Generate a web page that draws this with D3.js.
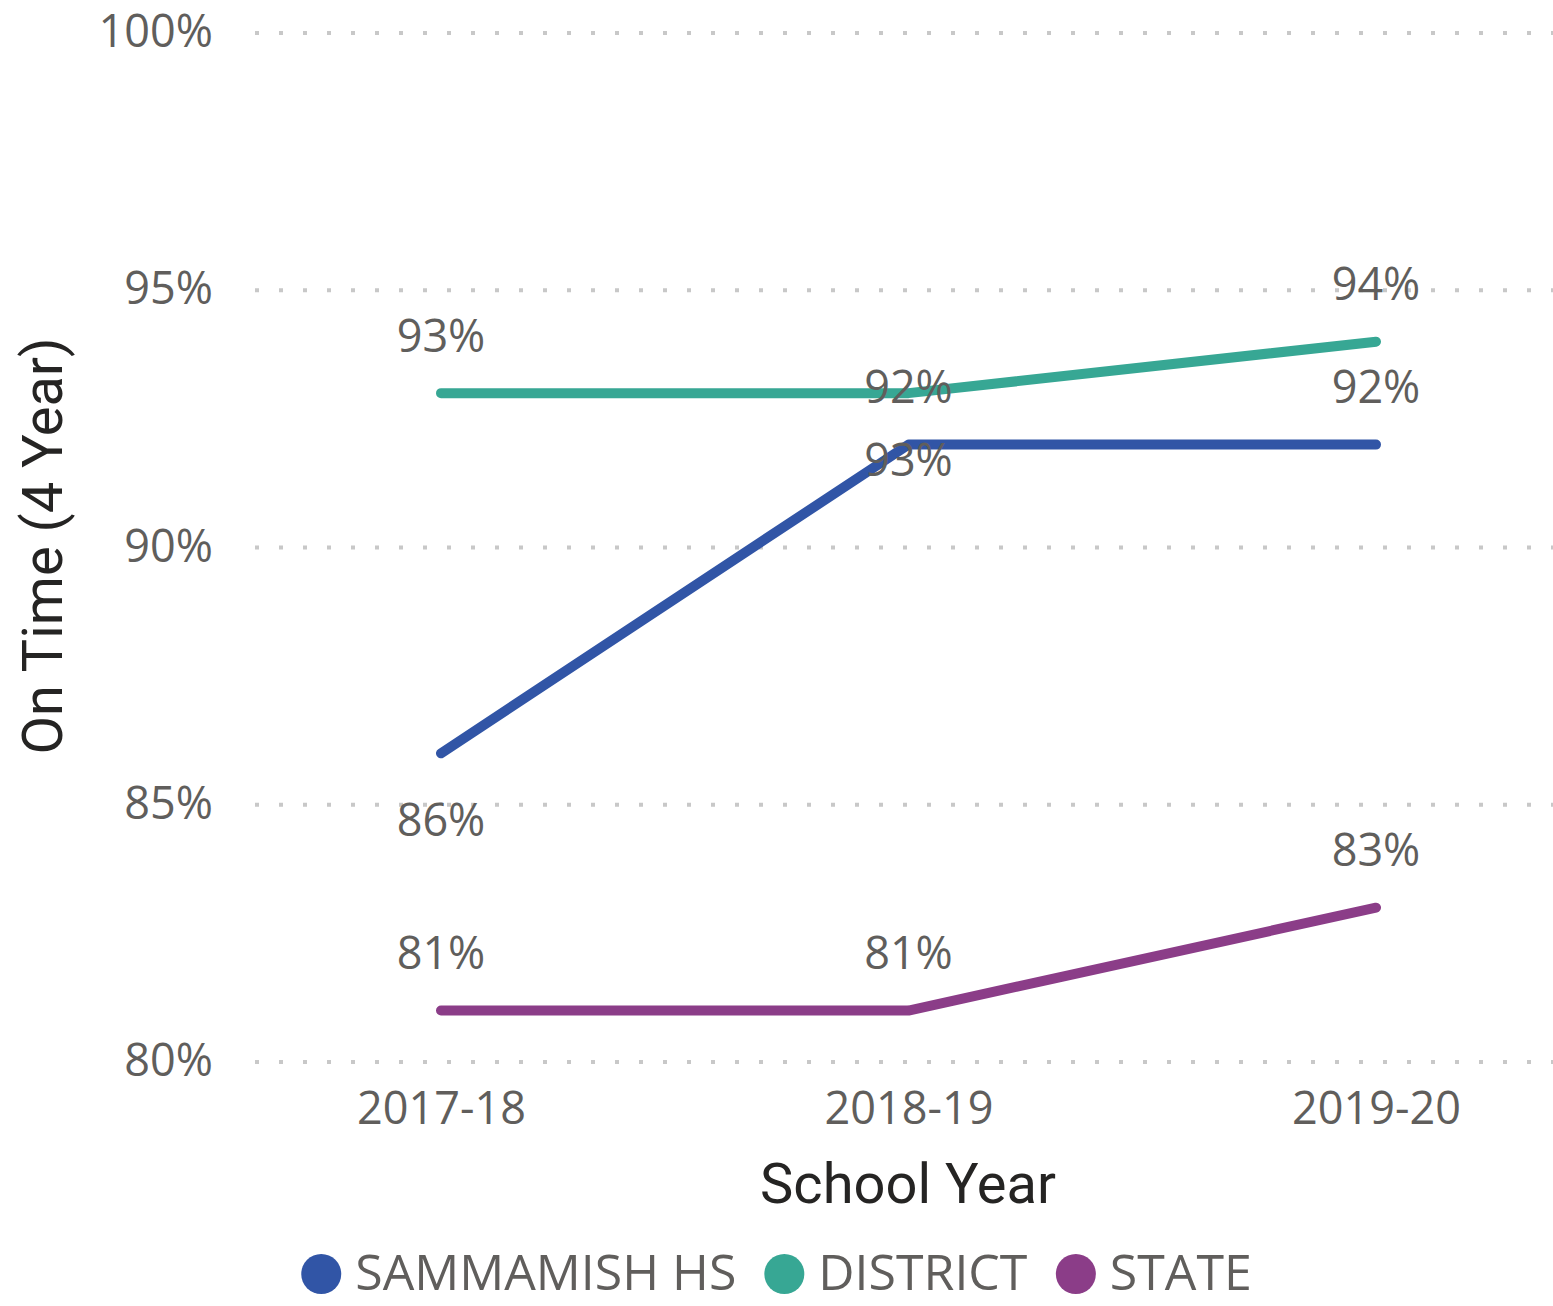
<!DOCTYPE html>
<html>
<head>
<meta charset="utf-8">
<script src="https://cdnjs.cloudflare.com/ajax/libs/d3/7.8.5/d3.min.js"></script>
<style>
  html, body { margin: 0; padding: 0; background: #fff; }
</style>
</head>
<body>
<div id="chart"></div>
<script>
// school years on the x axis
var years = ["2017-18", "2018-19", "2019-20"];

// series names, colours and values (percent)
var seriesNames = ["SAMMAMISH HS", "DISTRICT", "STATE"];
var seriesColors = ["#3155A6", "#37A794", "#8B3D88"];
var sammamish = [86, 92, 92];
var district = [93, 93, 94];
var state = [81, 81, 83];

// where each data label sits relative to its point
var sammamishLabelPos = ["below", "above", "above"];
var districtLabelPos = ["above", "below", "above"];
var stateLabelPos = ["above", "above", "above"];

var yTicks = [80, 85, 90, 95, 100];

var W = 1553, H = 1306,
    tickFont = "'Open Sans', 'Noto Sans', sans-serif",
    titleFont = "Roboto, 'DejaVu Sans Condensed', sans-serif",
    gray = "#605E5C";

var series = [
    { name: seriesNames[0], color: seriesColors[0], values: sammamish, pos: sammamishLabelPos },
    { name: seriesNames[1], color: seriesColors[1], values: district, pos: districtLabelPos },
    { name: seriesNames[2], color: seriesColors[2], values: state, pos: stateLabelPos }
];

var svg = d3.select("#chart").append("svg")
    .attr("width", W)
    .attr("height", H);

var gridLeft = 255, gridRight = W;

var x = d3.scalePoint()
    .domain(years)
    .range([441, 1376]);

var y = d3.scaleLinear()
    .domain([80, 100])
    .range([1062, 33]);

// dotted gridlines
svg.append("g").selectAll("line")
    .data(yTicks)
    .enter()
    .append("line")
    .attr("x1", gridLeft)
    .attr("x2", gridRight)
    .attr("y1", function (d) { return y(d); })
    .attr("y2", function (d) { return y(d); })
    .attr("stroke", "#C8C8C8")
    .attr("stroke-width", 4)
    .attr("stroke-dasharray", "4,20");

// y axis labels
var yAxis = svg.append("g")
    .attr("transform", "translate(213,0)")
    .call(d3.axisLeft(y).tickValues(yTicks).tickSize(0).tickPadding(0)
        .tickFormat(function (d) { return d + "%"; }));
yAxis.select(".domain").remove();
yAxis.selectAll("text")
    .attr("font-family", tickFont)
    .attr("font-size", "45px")
    .attr("fill", gray)
    .attr("dy", "0.3em");

// x axis labels
var xAxis = svg.append("g")
    .attr("transform", "translate(0,1090)")
    .call(d3.axisBottom(x).tickSize(0).tickPadding(0));
xAxis.select(".domain").remove();
xAxis.selectAll("text")
    .attr("font-family", tickFont)
    .attr("font-size", "45px")
    .attr("fill", gray)
    .attr("dy", "0.75em");

// axis titles
svg.append("text")
    .attr("x", 908)
    .attr("y", 1203)
    .attr("text-anchor", "middle")
    .attr("font-family", titleFont)
    .attr("font-size", "56px")
    .attr("fill", "#252423")
    .text("School Year");

svg.append("text")
    .attr("transform", "translate(62,546) rotate(-90)")
    .attr("text-anchor", "middle")
    .attr("font-family", titleFont)
    .attr("font-size", "56px")
    .attr("fill", "#252423")
    .text("On Time (4 Year)");

// lines
var line = d3.line()
    .x(function (d, i) { return x(years[i]); })
    .y(function (d) { return y(d); });

svg.append("g").selectAll("path")
    .data(series)
    .enter()
    .append("path")
    .attr("d", function (s) { return line(s.values); })
    .attr("fill", "none")
    .attr("stroke", function (s) { return s.color; })
    .attr("stroke-width", 10)
    .attr("stroke-linecap", "round")
    .attr("stroke-linejoin", "round");

// data labels
var labelData = [];
series.forEach(function (s) {
    s.values.forEach(function (v, i) {
        labelData.push({ v: v, year: years[i], pos: s.pos[i] });
    });
});

svg.append("g").selectAll("text")
    .data(labelData)
    .enter()
    .append("text")
    .attr("x", function (d) { return x(d.year); })
    .attr("y", function (d) { return y(d.v) + (d.pos === "above" ? -57 : 67); })
    .attr("dy", "0.35em")
    .attr("text-anchor", "middle")
    .attr("font-family", tickFont)
    .attr("font-size", "45px")
    .attr("fill", gray)
    .text(function (d) { return d.v + "%"; });

// legend, centred across the page
var legend = svg.append("g");
var items = legend.selectAll("g")
    .data(series)
    .enter()
    .append("g");

items.append("circle")
    .attr("r", 20)
    .attr("cx", 20)
    .attr("cy", 2)
    .attr("fill", function (s) { return s.color; });

items.append("text")
    .attr("x", 54)
    .attr("y", 0)
    .attr("dy", "0.36em")
    .attr("font-family", tickFont)
    .attr("font-size", "50px")
    .attr("fill", gray)
    .text(function (s) { return s.name; });

var offset = 0;
items.each(function () {
    var g = d3.select(this),
        w = g.node().getBBox().width;
    g.attr("transform", "translate(" + offset + ",0)");
    offset += w + 28;
});
offset -= 28;
legend.attr("transform", "translate(" + ((W - offset) / 2) + ",1272)");
</script>
</body>
</html>
